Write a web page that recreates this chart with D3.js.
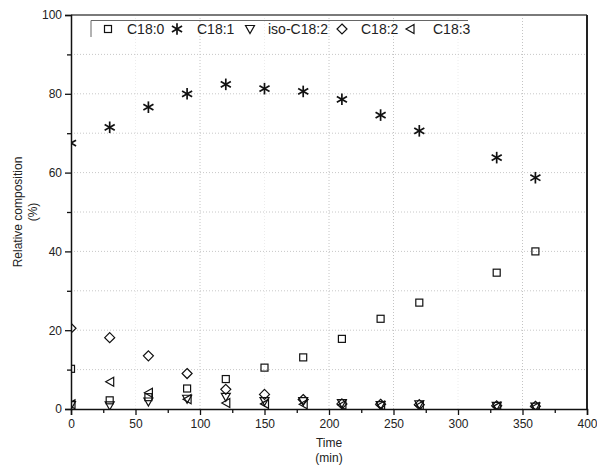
<!DOCTYPE html>
<html><head><meta charset="utf-8">
<script src="https://cdn.jsdelivr.net/npm/d3@7"></script>
<style>
html,body{margin:0;padding:0;background:#fff;}
svg{display:block;font-family:"Liberation Sans",Arial,sans-serif;}
</style></head>
<body><svg id="chart" width="597" height="466"></svg>
<script>
// ---- data ----
const time = [0, 30, 60, 90, 120, 150, 180, 210, 240, 270, 330, 360];
const seriesNames = ["C18:0", "C18:1", "iso-C18:2", "C18:2", "C18:3"];
const c180  = [10.2, 2.2, 3.0, 5.2, 7.6, 10.5, 13.1, 17.8, 22.9, 27.0, 34.6, 40.0];
const c181  = [67.5, 71.5, 76.6, 80.0, 82.4, 81.3, 80.6, 78.6, 74.6, 70.6, 63.8, 58.7];
const isoC182 = [1.0, 0.9, 1.9, 2.6, 3.1, 2.0, 2.0, 1.5, 1.0, 1.2, 0.8, 0.6];
const c182  = [20.5, 18.1, 13.5, 9.0, 5.0, 3.7, 2.4, 1.3, 1.2, 1.1, 0.8, 0.7];
const c183  = [1.2, 6.9, 4.1, 2.5, 1.5, 1.3, 1.2, 1.0, 0.9, 0.9, 0.6, 0.5];
const xTicks = [0, 50, 100, 150, 200, 250, 300, 350, 400];
const yTicks = [0, 20, 40, 60, 80, 100];
const xLabel = ["Time", "(min)"];
const yLabel = ["Relative composition", "(%)"];

const seriesValues = [c180, c181, isoC182, c182, c183];
const symbols = ["square", "asterisk", "triDown", "diamond", "triLeft"];

// ---- layout ----
const W = 597, H = 466;
const L = 71, R = 587, T = 15, B = 409;
const svg = d3.select("#chart");
const x = d3.scaleLinear().domain([0, 400]).range([L, R]);
const y = d3.scaleLinear().domain([0, 100]).range([B, T]);

// grid
const gx = svg.append("g");
[50,100,150,200,250,300,350].forEach(v => {
  const strong = [100,200,250,350].includes(v);
  gx.append("line").attr("x1", x(v)).attr("x2", x(v)).attr("y1", T).attr("y2", B)
    .attr("stroke", strong ? "#c4c4c4" : "#ececec").attr("stroke-width", 1)
    .attr("stroke-dasharray", "1,2");
});
d3.range(10, 100, 10).forEach(v => {
  gx.append("line").attr("x1", L).attr("x2", R).attr("y1", y(v)).attr("y2", y(v))
    .attr("stroke", "#c8c8c8").attr("stroke-width", 1).attr("stroke-dasharray", "1,2");
});

// frame top/right
svg.append("line").attr("x1", L).attr("x2", R).attr("y1", T).attr("y2", T)
  .attr("stroke", "#7a7a7a").attr("stroke-width", 2);
svg.append("line").attr("x1", R).attr("x2", R).attr("y1", T).attr("y2", B)
  .attr("stroke", "#222").attr("stroke-width", 2);

// axes
const fontSize = 12;
const xAxis = svg.append("g").attr("transform", `translate(0,${B})`)
  .call(d3.axisBottom(x).tickValues(xTicks).tickSize(6).tickPadding(4).tickFormat(d3.format("d")));
const xMinor = svg.append("g").attr("transform", `translate(0,${B})`)
  .call(d3.axisBottom(x).tickValues(d3.range(25, 400, 50)).tickSize(4).tickFormat(""));
const yAxis = svg.append("g").attr("transform", `translate(${L},0)`)
  .call(d3.axisLeft(y).tickValues(yTicks).tickSize(6).tickPadding(3).tickFormat(d3.format("d")));
const yMinor = svg.append("g").attr("transform", `translate(${L},0)`)
  .call(d3.axisLeft(y).tickValues(d3.range(10, 100, 20)).tickSize(4).tickFormat(""));
[xAxis, xMinor, yAxis, yMinor].forEach(g => {
  g.selectAll("path").attr("stroke", "#111").attr("stroke-width", 1.5);
  g.selectAll("line").attr("stroke", "#111").attr("stroke-width", 1.3);
  g.selectAll("text").attr("font-size", fontSize).attr("fill", "#222")
    .attr("font-family", "Liberation Sans, Arial, sans-serif");
});
xMinor.select("path").remove(); yMinor.select("path").remove();

// axis titles
const cx = (L + R) / 2, cy = (T + B) / 2;
svg.append("text").attr("x", cx).attr("y", 447).attr("text-anchor", "middle")
  .attr("font-size", fontSize).attr("fill", "#222").text(xLabel[0]);
svg.append("text").attr("x", cx).attr("y", 462).attr("text-anchor", "middle")
  .attr("font-size", fontSize).attr("fill", "#222").text(xLabel[1]);
svg.append("text").attr("transform", `translate(22,${cy}) rotate(-90)`).attr("text-anchor", "middle")
  .attr("font-size", fontSize).attr("fill", "#222").text(yLabel[0]);
svg.append("text").attr("transform", `translate(37,${cy}) rotate(-90)`).attr("text-anchor", "middle")
  .attr("font-size", fontSize).attr("fill", "#222").text(yLabel[1]);

// marker drawer
function drawMarker(g, type, px, py) {
  const s = g.append("g").attr("transform", `translate(${px},${py})`);
  const st = {fill: "none", stroke: "#111", "stroke-width": 1.2};
  const apply = el => { Object.entries(st).forEach(([k, v]) => el.attr(k, v)); return el; };
  if (type === "square") apply(s.append("rect").attr("x", -3.5).attr("y", -3.5).attr("width", 7).attr("height", 7));
  else if (type === "diamond") apply(s.append("path").attr("d", "M0,-5L5,0L0,5L-5,0Z"));
  else if (type === "triDown") apply(s.append("path").attr("d", "M-4.5,-3.5L4.5,-3.5L0,4.5Z"));
  else if (type === "triLeft") apply(s.append("path").attr("d", "M-4,0L4,-4.5L4,4.5Z"));
  else if (type === "asterisk") {
    const r = 5.8;
    [[0, -r, 0, r], [-r*0.87, -r*0.5, r*0.87, r*0.5], [-r*0.87, r*0.5, r*0.87, -r*0.5]].forEach(p =>
      s.append("line").attr("x1", p[0]).attr("y1", p[1]).attr("x2", p[2]).attr("y2", p[3])
        .attr("stroke", "#111").attr("stroke-width", 1.7));
  }
}

// clip
svg.append("clipPath").attr("id", "plot").append("rect")
  .attr("x", L).attr("y", T).attr("width", R - L).attr("height", B - T);
const marks = svg.append("g").attr("clip-path", "url(#plot)");
const order = [1, 0, 3, 2, 4];
order.forEach(si => {
  const g = marks.append("g").attr("class", "series-" + si);
  seriesValues[si].forEach((v, i) => drawMarker(g, symbols[si], x(time[i]), y(v)));
});

// legend
const leg = svg.append("g");
leg.append("path").attr("d", "M91,37V20.5H468").attr("fill", "none").attr("stroke", "#666").attr("stroke-width", 1);
const legSymX = [108, 177, 250, 342, 410];
const legTxtX = [127, 197, 268, 361, 433];
seriesNames.forEach((n, i) => {
  drawMarker(leg, symbols[i], legSymX[i], 29);
  leg.append("text").attr("x", legTxtX[i]).attr("y", 34).attr("font-size", 14)
    .attr("fill", "#222").text(n);
});
</script></body></html>
